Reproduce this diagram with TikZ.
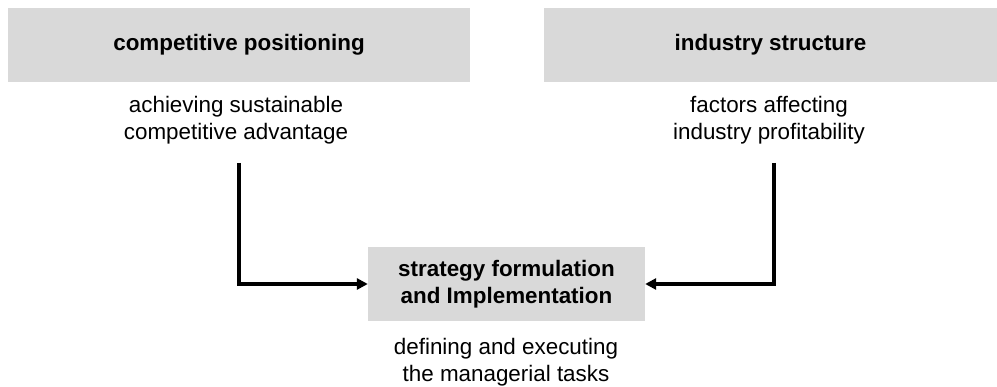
\documentclass[tikz,border=0pt]{standalone}
\usepackage{fontspec}
\setmainfont{Liberation Sans}
\usetikzlibrary{arrows.meta}
\definecolor{boxgrey}{HTML}{D9D9D9}
\tikzset{
  greybox/.style={fill=boxgrey, draw=none, inner sep=0pt, font=\fontsize{22.4}{27}\selectfont\bfseries, align=center},
  subtext/.style={inner sep=0pt, font=\fontsize{22.4}{27}\selectfont, align=center},
  conn/.style={line width=3.5pt, -{Triangle[length=11pt,width=11pt]}}
}
\begin{document}
\begin{tikzpicture}[x=1pt,y=-1pt]
\useasboundingbox (0,0) rectangle (997,387);
\node[greybox, minimum width=462pt, minimum height=74pt] (cp) at (239,45) {competitive positioning};
\node[greybox, minimum width=453pt, minimum height=74pt] (is) at (770.5,45) {industry structure};
\node[greybox, minimum width=277pt, minimum height=74pt] (sf) at (506.5,284) {strategy formulation\\and Implementation};
\node[subtext] (cpsub) at (236,120) {achieving sustainable\\competitive advantage};
\node[subtext] (issub) at (769,120) {factors affecting\\industry profitability};
\node[subtext] (sfsub) at (506,362) {defining and executing\\the managerial tasks};
\coordinate (lstart) at (239,163);
\coordinate (rstart) at (774,163);
\draw[conn] (lstart) |- (sf.west);
\draw[conn] (rstart) |- (sf.east);
\end{tikzpicture}
\end{document}
